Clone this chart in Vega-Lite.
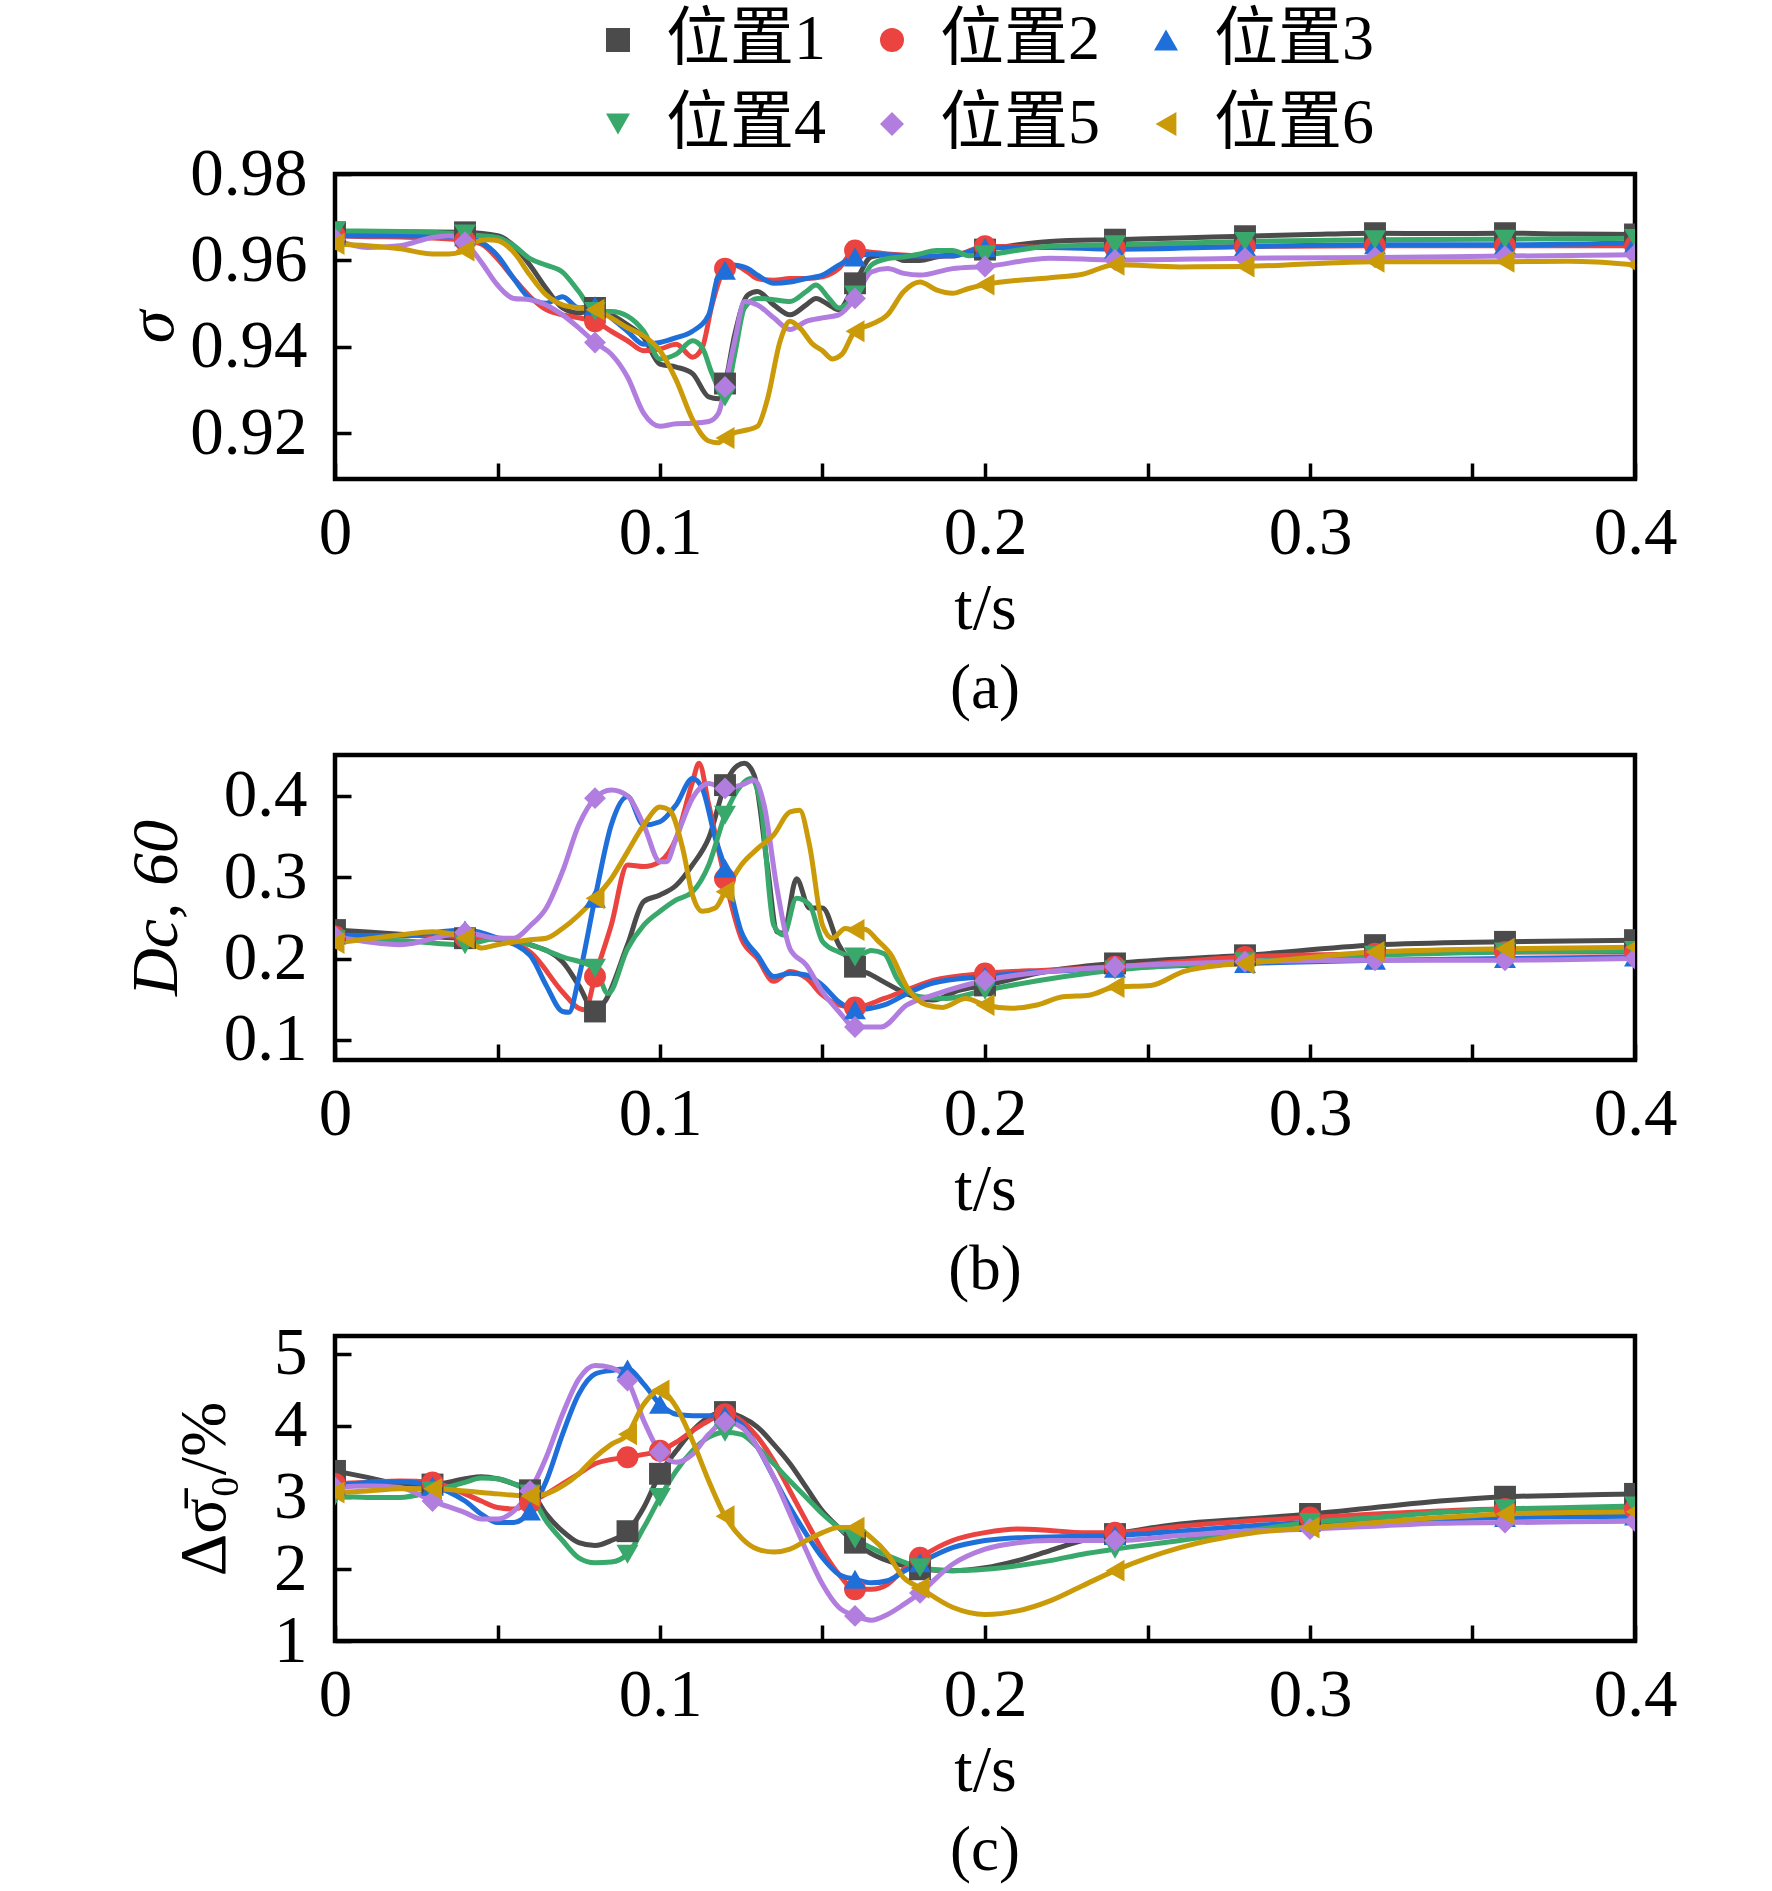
{
"$schema":"https://vega.github.io/schema/vega-lite/v6.json",
"padding":{"left":117,"top":8,"right":10,"bottom":10},
"background":"white",
"bounds":"flush",
"spacing":276,
"config":{
"view":{"stroke":"black","strokeWidth":4.5},
"axis":{"domain":false,"grid":false,"labelFont":"Liberation Serif","labelFontSize":67,"labelColor":"black","tickColor":"black","tickWidth":3.5,"titleFont":"Liberation Serif","titleFontSize":66,"titleFontWeight":"normal","titleColor":"black","labelFlush":false,"labelOverlap":false},
"point":{"opacity":1}
},
"datasets":{
"a":[
{"s":"位置1","t":0,"v":0.9665},{"s":"位置1","t":0.01,"v":0.9666},{"s":"位置1","t":0.02,"v":0.9666},{"s":"位置1","t":0.03,"v":0.9666},{"s":"位置1","t":0.04,"v":0.9665},{"s":"位置1","t":0.05,"v":0.9657},{"s":"位置1","t":0.055,"v":0.9634},{"s":"位置1","t":0.06,"v":0.9589},{"s":"位置1","t":0.065,"v":0.9535},{"s":"位置1","t":0.07,"v":0.949},{"s":"位置1","t":0.075,"v":0.9478},{"s":"位置1","t":0.08,"v":0.949},{"s":"位置1","t":0.085,"v":0.9474},{"s":"位置1","t":0.09,"v":0.9451},{"s":"位置1","t":0.095,"v":0.9421},{"s":"位置1","t":0.1,"v":0.936},{"s":"位置1","t":0.105,"v":0.9353},{"s":"位置1","t":0.11,"v":0.9338},{"s":"位置1","t":0.115,"v":0.9284},{"s":"位置1","t":0.118,"v":0.928},{"s":"位置1","t":0.12,"v":0.9315},{"s":"位置1","t":0.123,"v":0.9429},{"s":"位置1","t":0.127,"v":0.952},{"s":"位置1","t":0.13,"v":0.9528},{"s":"位置1","t":0.135,"v":0.9497},{"s":"位置1","t":0.14,"v":0.9474},{"s":"位置1","t":0.145,"v":0.9497},{"s":"位置1","t":0.148,"v":0.9512},{"s":"位置1","t":0.152,"v":0.9497},{"s":"位置1","t":0.155,"v":0.9486},{"s":"位置1","t":0.16,"v":0.9547},{"s":"位置1","t":0.165,"v":0.9608},{"s":"位置1","t":0.17,"v":0.9613},{"s":"位置1","t":0.175,"v":0.96},{"s":"位置1","t":0.18,"v":0.96},{"s":"位置1","t":0.185,"v":0.9608},{"s":"位置1","t":0.19,"v":0.9613},{"s":"位置1","t":0.2,"v":0.9625},{"s":"位置1","t":0.22,"v":0.9644},{"s":"位置1","t":0.24,"v":0.9648},{"s":"位置1","t":0.26,"v":0.9652},{"s":"位置1","t":0.28,"v":0.9656},{"s":"位置1","t":0.3,"v":0.966},{"s":"位置1","t":0.32,"v":0.9663},{"s":"位置1","t":0.34,"v":0.9662},{"s":"位置1","t":0.36,"v":0.9663},{"s":"位置1","t":0.38,"v":0.9661},{"s":"位置1","t":0.4,"v":0.966},
{"s":"位置2","t":0,"v":0.9657},{"s":"位置2","t":0.01,"v":0.9655},{"s":"位置2","t":0.02,"v":0.9654},{"s":"位置2","t":0.03,"v":0.9652},{"s":"位置2","t":0.04,"v":0.9646},{"s":"位置2","t":0.045,"v":0.9638},{"s":"位置2","t":0.05,"v":0.9604},{"s":"位置2","t":0.055,"v":0.9558},{"s":"位置2","t":0.06,"v":0.9516},{"s":"位置2","t":0.065,"v":0.9486},{"s":"位置2","t":0.07,"v":0.9474},{"s":"位置2","t":0.075,"v":0.9467},{"s":"位置2","t":0.08,"v":0.9459},{"s":"位置2","t":0.085,"v":0.9436},{"s":"位置2","t":0.09,"v":0.9414},{"s":"位置2","t":0.095,"v":0.9391},{"s":"位置2","t":0.1,"v":0.9395},{"s":"位置2","t":0.105,"v":0.9406},{"s":"位置2","t":0.11,"v":0.9376},{"s":"位置2","t":0.113,"v":0.9398},{"s":"位置2","t":0.116,"v":0.9497},{"s":"位置2","t":0.12,"v":0.9581},{"s":"位置2","t":0.123,"v":0.9589},{"s":"位置2","t":0.127,"v":0.9573},{"s":"位置2","t":0.13,"v":0.9558},{"s":"位置2","t":0.135,"v":0.9554},{"s":"位置2","t":0.14,"v":0.9558},{"s":"位置2","t":0.145,"v":0.9558},{"s":"位置2","t":0.15,"v":0.9562},{"s":"位置2","t":0.155,"v":0.9581},{"s":"位置2","t":0.16,"v":0.9623},{"s":"位置2","t":0.165,"v":0.9619},{"s":"位置2","t":0.17,"v":0.9615},{"s":"位置2","t":0.18,"v":0.9611},{"s":"位置2","t":0.19,"v":0.961},{"s":"位置2","t":0.2,"v":0.9633},{"s":"位置2","t":0.22,"v":0.963},{"s":"位置2","t":0.24,"v":0.9629},{"s":"位置2","t":0.28,"v":0.9632},{"s":"位置2","t":0.32,"v":0.9634},{"s":"位置2","t":0.36,"v":0.9634},{"s":"位置2","t":0.4,"v":0.9634},
{"s":"位置3","t":0,"v":0.9657},{"s":"位置3","t":0.02,"v":0.9657},{"s":"位置3","t":0.04,"v":0.9655},{"s":"位置3","t":0.045,"v":0.9642},{"s":"位置3","t":0.05,"v":0.9611},{"s":"位置3","t":0.055,"v":0.9558},{"s":"位置3","t":0.06,"v":0.9512},{"s":"位置3","t":0.065,"v":0.9501},{"s":"位置3","t":0.07,"v":0.9516},{"s":"位置3","t":0.075,"v":0.949},{"s":"位置3","t":0.08,"v":0.9495},{"s":"位置3","t":0.085,"v":0.9467},{"s":"位置3","t":0.09,"v":0.9436},{"s":"位置3","t":0.095,"v":0.9406},{"s":"位置3","t":0.1,"v":0.941},{"s":"位置3","t":0.105,"v":0.9421},{"s":"位置3","t":0.11,"v":0.9436},{"s":"位置3","t":0.115,"v":0.9474},{"s":"位置3","t":0.118,"v":0.9566},{"s":"位置3","t":0.12,"v":0.9577},{"s":"位置3","t":0.123,"v":0.9589},{"s":"位置3","t":0.127,"v":0.9581},{"s":"位置3","t":0.13,"v":0.9566},{"s":"位置3","t":0.135,"v":0.9547},{"s":"位置3","t":0.14,"v":0.955},{"s":"位置3","t":0.145,"v":0.9558},{"s":"位置3","t":0.15,"v":0.9566},{"s":"位置3","t":0.155,"v":0.9589},{"s":"位置3","t":0.16,"v":0.9608},{"s":"位置3","t":0.165,"v":0.9615},{"s":"位置3","t":0.17,"v":0.9613},{"s":"位置3","t":0.18,"v":0.961},{"s":"位置3","t":0.19,"v":0.961},{"s":"位置3","t":0.2,"v":0.963},{"s":"位置3","t":0.22,"v":0.963},{"s":"位置3","t":0.24,"v":0.9626},{"s":"位置3","t":0.28,"v":0.9632},{"s":"位置3","t":0.32,"v":0.9636},{"s":"位置3","t":0.36,"v":0.9636},{"s":"位置3","t":0.4,"v":0.964},
{"s":"位置4","t":0,"v":0.9668},{"s":"位置4","t":0.02,"v":0.9667},{"s":"位置4","t":0.04,"v":0.9661},{"s":"位置4","t":0.045,"v":0.9657},{"s":"位置4","t":0.05,"v":0.9653},{"s":"位置4","t":0.055,"v":0.9634},{"s":"位置4","t":0.06,"v":0.9604},{"s":"位置4","t":0.065,"v":0.9589},{"s":"位置4","t":0.07,"v":0.9573},{"s":"位置4","t":0.075,"v":0.9528},{"s":"位置4","t":0.08,"v":0.9482},{"s":"位置4","t":0.085,"v":0.9482},{"s":"位置4","t":0.09,"v":0.9471},{"s":"位置4","t":0.095,"v":0.9436},{"s":"位置4","t":0.1,"v":0.9372},{"s":"位置4","t":0.105,"v":0.9383},{"s":"位置4","t":0.11,"v":0.9414},{"s":"位置4","t":0.113,"v":0.9398},{"s":"位置4","t":0.116,"v":0.9338},{"s":"位置4","t":0.12,"v":0.9284},{"s":"位置4","t":0.123,"v":0.9383},{"s":"位置4","t":0.126,"v":0.949},{"s":"位置4","t":0.13,"v":0.9512},{"s":"位置4","t":0.135,"v":0.9509},{"s":"位置4","t":0.14,"v":0.9505},{"s":"位置4","t":0.145,"v":0.9528},{"s":"位置4","t":0.148,"v":0.9543},{"s":"位置4","t":0.152,"v":0.9512},{"s":"位置4","t":0.155,"v":0.949},{"s":"位置4","t":0.16,"v":0.952},{"s":"位置4","t":0.165,"v":0.9589},{"s":"位置4","t":0.17,"v":0.9604},{"s":"位置4","t":0.175,"v":0.9608},{"s":"位置4","t":0.18,"v":0.9615},{"s":"位置4","t":0.185,"v":0.9623},{"s":"位置4","t":0.19,"v":0.9623},{"s":"位置4","t":0.195,"v":0.9611},{"s":"位置4","t":0.2,"v":0.9613},{"s":"位置4","t":0.22,"v":0.9633},{"s":"位置4","t":0.24,"v":0.9636},{"s":"位置4","t":0.28,"v":0.9644},{"s":"位置4","t":0.32,"v":0.9648},{"s":"位置4","t":0.36,"v":0.9649},{"s":"位置4","t":0.4,"v":0.9651},
{"s":"位置5","t":0,"v":0.9649},{"s":"位置5","t":0.01,"v":0.963},{"s":"位置5","t":0.02,"v":0.9634},{"s":"位置5","t":0.03,"v":0.9653},{"s":"位置5","t":0.035,"v":0.9657},{"s":"位置5","t":0.04,"v":0.9642},{"s":"位置5","t":0.045,"v":0.9596},{"s":"位置5","t":0.05,"v":0.9543},{"s":"位置5","t":0.055,"v":0.9512},{"s":"位置5","t":0.06,"v":0.9509},{"s":"位置5","t":0.065,"v":0.9497},{"s":"位置5","t":0.07,"v":0.9474},{"s":"位置5","t":0.075,"v":0.9444},{"s":"位置5","t":0.08,"v":0.941},{"s":"位置5","t":0.085,"v":0.9383},{"s":"位置5","t":0.09,"v":0.933},{"s":"位置5","t":0.095,"v":0.9246},{"s":"位置5","t":0.1,"v":0.9216},{"s":"位置5","t":0.105,"v":0.9222},{"s":"位置5","t":0.11,"v":0.9223},{"s":"位置5","t":0.115,"v":0.9227},{"s":"位置5","t":0.118,"v":0.9246},{"s":"位置5","t":0.12,"v":0.9307},{"s":"位置5","t":0.123,"v":0.9414},{"s":"位置5","t":0.126,"v":0.9505},{"s":"位置5","t":0.13,"v":0.9497},{"s":"位置5","t":0.135,"v":0.9467},{"s":"位置5","t":0.14,"v":0.944},{"s":"位置5","t":0.145,"v":0.9459},{"s":"位置5","t":0.15,"v":0.9467},{"s":"位置5","t":0.155,"v":0.9474},{"s":"位置5","t":0.16,"v":0.9512},{"s":"位置5","t":0.165,"v":0.9573},{"s":"位置5","t":0.17,"v":0.9581},{"s":"位置5","t":0.175,"v":0.957},{"s":"位置5","t":0.18,"v":0.9566},{"s":"位置5","t":0.19,"v":0.9581},{"s":"位置5","t":0.2,"v":0.9586},{"s":"位置5","t":0.22,"v":0.9605},{"s":"位置5","t":0.24,"v":0.9601},{"s":"位置5","t":0.28,"v":0.9605},{"s":"位置5","t":0.32,"v":0.9607},{"s":"位置5","t":0.36,"v":0.961},{"s":"位置5","t":0.4,"v":0.9613},
{"s":"位置6","t":0,"v":0.9638},{"s":"位置6","t":0.01,"v":0.9634},{"s":"位置6","t":0.02,"v":0.9627},{"s":"位置6","t":0.03,"v":0.9615},{"s":"位置6","t":0.035,"v":0.9615},{"s":"位置6","t":0.04,"v":0.9623},{"s":"位置6","t":0.043,"v":0.9642},{"s":"位置6","t":0.047,"v":0.9648},{"s":"位置6","t":0.05,"v":0.9646},{"s":"位置6","t":0.055,"v":0.9619},{"s":"位置6","t":0.06,"v":0.9566},{"s":"位置6","t":0.065,"v":0.952},{"s":"位置6","t":0.07,"v":0.9497},{"s":"位置6","t":0.075,"v":0.949},{"s":"位置6","t":0.08,"v":0.9486},{"s":"位置6","t":0.085,"v":0.9467},{"s":"位置6","t":0.09,"v":0.9444},{"s":"位置6","t":0.095,"v":0.9425},{"s":"位置6","t":0.1,"v":0.9391},{"s":"位置6","t":0.105,"v":0.9323},{"s":"位置6","t":0.11,"v":0.9232},{"s":"位置6","t":0.115,"v":0.9182},{"s":"位置6","t":0.118,"v":0.9178},{"s":"位置6","t":0.12,"v":0.9189},{"s":"位置6","t":0.123,"v":0.9201},{"s":"位置6","t":0.127,"v":0.9208},{"s":"位置6","t":0.13,"v":0.9216},{"s":"位置6","t":0.133,"v":0.9277},{"s":"位置6","t":0.137,"v":0.9414},{"s":"位置6","t":0.14,"v":0.9459},{"s":"位置6","t":0.143,"v":0.9444},{"s":"位置6","t":0.147,"v":0.9406},{"s":"位置6","t":0.15,"v":0.9391},{"s":"位置6","t":0.153,"v":0.9372},{"s":"位置6","t":0.156,"v":0.9383},{"s":"位置6","t":0.16,"v":0.9436},{"s":"位置6","t":0.165,"v":0.9452},{"s":"位置6","t":0.17,"v":0.9474},{"s":"位置6","t":0.175,"v":0.9528},{"s":"位置6","t":0.18,"v":0.955},{"s":"位置6","t":0.185,"v":0.9532},{"s":"位置6","t":0.19,"v":0.9524},{"s":"位置6","t":0.195,"v":0.9535},{"s":"位置6","t":0.2,"v":0.9544},{"s":"位置6","t":0.22,"v":0.956},{"s":"位置6","t":0.23,"v":0.9568},{"s":"位置6","t":0.24,"v":0.959},{"s":"位置6","t":0.26,"v":0.9585},{"s":"位置6","t":0.28,"v":0.9586},{"s":"位置6","t":0.3,"v":0.9592},{"s":"位置6","t":0.32,"v":0.9597},{"s":"位置6","t":0.36,"v":0.9597},{"s":"位置6","t":0.38,"v":0.9598},{"s":"位置6","t":0.4,"v":0.959}
],
"b":[
{"s":"位置1","t":0,"v":0.235},{"s":"位置1","t":0.02,"v":0.23},{"s":"位置1","t":0.04,"v":0.225},{"s":"位置1","t":0.05,"v":0.225},{"s":"位置1","t":0.06,"v":0.217},{"s":"位置1","t":0.07,"v":0.196},{"s":"位置1","t":0.075,"v":0.167},{"s":"位置1","t":0.08,"v":0.135},{"s":"位置1","t":0.083,"v":0.147},{"s":"位置1","t":0.09,"v":0.217},{"s":"位置1","t":0.095,"v":0.27},{"s":"位置1","t":0.1,"v":0.278},{"s":"位置1","t":0.105,"v":0.29},{"s":"位置1","t":0.11,"v":0.315},{"s":"位置1","t":0.115,"v":0.348},{"s":"位置1","t":0.12,"v":0.413},{"s":"位置1","t":0.123,"v":0.434},{"s":"位置1","t":0.126,"v":0.44},{"s":"位置1","t":0.129,"v":0.425},{"s":"位置1","t":0.133,"v":0.315},{"s":"位置1","t":0.136,"v":0.233},{"s":"位置1","t":0.138,"v":0.231},{"s":"位置1","t":0.142,"v":0.298},{"s":"位置1","t":0.146,"v":0.262},{"s":"位置1","t":0.15,"v":0.262},{"s":"位置1","t":0.155,"v":0.217},{"s":"位置1","t":0.16,"v":0.19},{"s":"位置1","t":0.165,"v":0.18},{"s":"位置1","t":0.169,"v":0.171},{"s":"位置1","t":0.177,"v":0.155},{"s":"位置1","t":0.184,"v":0.149},{"s":"位置1","t":0.192,"v":0.161},{"s":"位置1","t":0.2,"v":0.167},{"s":"位置1","t":0.22,"v":0.185},{"s":"位置1","t":0.24,"v":0.194},{"s":"位置1","t":0.28,"v":0.204},{"s":"位置1","t":0.32,"v":0.2165},{"s":"位置1","t":0.36,"v":0.2205},{"s":"位置1","t":0.4,"v":0.2226},
{"s":"位置2","t":0,"v":0.227},{"s":"位置2","t":0.02,"v":0.228},{"s":"位置2","t":0.03,"v":0.229},{"s":"位置2","t":0.04,"v":0.226},{"s":"位置2","t":0.05,"v":0.223},{"s":"位置2","t":0.06,"v":0.208},{"s":"位置2","t":0.07,"v":0.159},{"s":"位置2","t":0.075,"v":0.139},{"s":"位置2","t":0.077,"v":0.137},{"s":"位置2","t":0.08,"v":0.178},{"s":"位置2","t":0.085,"v":0.241},{"s":"位置2","t":0.09,"v":0.315},{"s":"位置2","t":0.095,"v":0.313},{"s":"位置2","t":0.1,"v":0.319},{"s":"位置2","t":0.105,"v":0.348},{"s":"位置2","t":0.11,"v":0.417},{"s":"位置2","t":0.112,"v":0.44},{"s":"位置2","t":0.115,"v":0.389},{"s":"位置2","t":0.12,"v":0.298},{"s":"位置2","t":0.125,"v":0.225},{"s":"位置2","t":0.13,"v":0.2},{"s":"位置2","t":0.135,"v":0.172},{"s":"位置2","t":0.14,"v":0.184},{"s":"位置2","t":0.145,"v":0.176},{"s":"位置2","t":0.15,"v":0.155},{"s":"位置2","t":0.155,"v":0.143},{"s":"位置2","t":0.16,"v":0.14},{"s":"位置2","t":0.169,"v":0.151},{"s":"位置2","t":0.177,"v":0.163},{"s":"位置2","t":0.184,"v":0.173},{"s":"位置2","t":0.2,"v":0.1817},{"s":"位置2","t":0.22,"v":0.186},{"s":"位置2","t":0.24,"v":0.19},{"s":"位置2","t":0.28,"v":0.202},{"s":"位置2","t":0.32,"v":0.206},{"s":"位置2","t":0.36,"v":0.208},{"s":"位置2","t":0.4,"v":0.208},
{"s":"位置3","t":0,"v":0.229},{"s":"位置3","t":0.02,"v":0.228},{"s":"位置3","t":0.04,"v":0.235},{"s":"位置3","t":0.05,"v":0.225},{"s":"位置3","t":0.06,"v":0.204},{"s":"位置3","t":0.065,"v":0.167},{"s":"位置3","t":0.07,"v":0.135},{"s":"位置3","t":0.072,"v":0.134},{"s":"位置3","t":0.075,"v":0.176},{"s":"位置3","t":0.08,"v":0.274},{"s":"位置3","t":0.085,"v":0.364},{"s":"位置3","t":0.09,"v":0.399},{"s":"位置3","t":0.095,"v":0.364},{"s":"位置3","t":0.1,"v":0.368},{"s":"位置3","t":0.105,"v":0.389},{"s":"位置3","t":0.11,"v":0.421},{"s":"位置3","t":0.113,"v":0.409},{"s":"位置3","t":0.117,"v":0.348},{"s":"位置3","t":0.12,"v":0.311},{"s":"位置3","t":0.125,"v":0.233},{"s":"位置3","t":0.13,"v":0.204},{"s":"位置3","t":0.135,"v":0.178},{"s":"位置3","t":0.14,"v":0.182},{"s":"位置3","t":0.145,"v":0.18},{"s":"位置3","t":0.15,"v":0.167},{"s":"位置3","t":0.155,"v":0.147},{"s":"位置3","t":0.16,"v":0.137},{"s":"位置3","t":0.169,"v":0.143},{"s":"位置3","t":0.177,"v":0.159},{"s":"位置3","t":0.184,"v":0.17},{"s":"位置3","t":0.2,"v":0.178},{"s":"位置3","t":0.24,"v":0.188},{"s":"位置3","t":0.28,"v":0.194},{"s":"位置3","t":0.32,"v":0.198},{"s":"位置3","t":0.36,"v":0.2},{"s":"位置3","t":0.4,"v":0.202},
{"s":"位置4","t":0,"v":0.223},{"s":"位置4","t":0.02,"v":0.222},{"s":"位置4","t":0.04,"v":0.217},{"s":"位置4","t":0.05,"v":0.225},{"s":"位置4","t":0.06,"v":0.217},{"s":"位置4","t":0.07,"v":0.202},{"s":"位置4","t":0.08,"v":0.188},{"s":"位置4","t":0.084,"v":0.157},{"s":"位置4","t":0.09,"v":0.212},{"s":"位置4","t":0.095,"v":0.241},{"s":"位置4","t":0.1,"v":0.258},{"s":"位置4","t":0.105,"v":0.272},{"s":"位置4","t":0.11,"v":0.282},{"s":"位置4","t":0.115,"v":0.315},{"s":"位置4","t":0.12,"v":0.376},{"s":"位置4","t":0.125,"v":0.413},{"s":"位置4","t":0.128,"v":0.421},{"s":"位置4","t":0.131,"v":0.389},{"s":"位置4","t":0.135,"v":0.241},{"s":"位置4","t":0.138,"v":0.229},{"s":"位置4","t":0.142,"v":0.274},{"s":"位置4","t":0.146,"v":0.266},{"s":"位置4","t":0.15,"v":0.221},{"s":"位置4","t":0.155,"v":0.208},{"s":"位置4","t":0.16,"v":0.202},{"s":"位置4","t":0.165,"v":0.21},{"s":"位置4","t":0.169,"v":0.206},{"s":"位置4","t":0.173,"v":0.175},{"s":"位置4","t":0.18,"v":0.153},{"s":"位置4","t":0.188,"v":0.151},{"s":"位置4","t":0.2,"v":0.161},{"s":"位置4","t":0.24,"v":0.186},{"s":"位置4","t":0.28,"v":0.196},{"s":"位置4","t":0.32,"v":0.204},{"s":"位置4","t":0.36,"v":0.208},{"s":"位置4","t":0.4,"v":0.21},
{"s":"位置5","t":0,"v":0.227},{"s":"位置5","t":0.02,"v":0.217},{"s":"位置5","t":0.04,"v":0.232},{"s":"位置5","t":0.05,"v":0.225},{"s":"位置5","t":0.055,"v":0.225},{"s":"位置5","t":0.06,"v":0.24},{"s":"位置5","t":0.065,"v":0.262},{"s":"位置5","t":0.07,"v":0.307},{"s":"位置5","t":0.075,"v":0.364},{"s":"位置5","t":0.08,"v":0.397},{"s":"位置5","t":0.085,"v":0.407},{"s":"位置5","t":0.09,"v":0.4},{"s":"位置5","t":0.095,"v":0.364},{"s":"位置5","t":0.1,"v":0.319},{"s":"位置5","t":0.102,"v":0.319},{"s":"位置5","t":0.105,"v":0.348},{"s":"位置5","t":0.11,"v":0.397},{"s":"位置5","t":0.115,"v":0.415},{"s":"位置5","t":0.12,"v":0.409},{"s":"位置5","t":0.125,"v":0.413},{"s":"位置5","t":0.129,"v":0.419},{"s":"位置5","t":0.132,"v":0.389},{"s":"位置5","t":0.136,"v":0.286},{"s":"位置5","t":0.14,"v":0.212},{"s":"位置5","t":0.145,"v":0.192},{"s":"位置5","t":0.15,"v":0.159},{"s":"位置5","t":0.155,"v":0.135},{"s":"位置5","t":0.16,"v":0.116},{"s":"位置5","t":0.168,"v":0.116},{"s":"位置5","t":0.176,"v":0.143},{"s":"位置5","t":0.184,"v":0.155},{"s":"位置5","t":0.2,"v":0.173},{"s":"位置5","t":0.24,"v":0.19},{"s":"位置5","t":0.28,"v":0.196},{"s":"位置5","t":0.32,"v":0.198},{"s":"位置5","t":0.36,"v":0.198},{"s":"位置5","t":0.4,"v":0.2},
{"s":"位置6","t":0,"v":0.219},{"s":"位置6","t":0.02,"v":0.229},{"s":"位置6","t":0.03,"v":0.233},{"s":"位置6","t":0.04,"v":0.225},{"s":"位置6","t":0.045,"v":0.213},{"s":"位置6","t":0.05,"v":0.217},{"s":"位置6","t":0.06,"v":0.223},{"s":"位置6","t":0.065,"v":0.225},{"s":"位置6","t":0.07,"v":0.237},{"s":"位置6","t":0.08,"v":0.274},{"s":"位置6","t":0.085,"v":0.298},{"s":"位置6","t":0.09,"v":0.331},{"s":"位置6","t":0.095,"v":0.364},{"s":"位置6","t":0.1,"v":0.386},{"s":"位置6","t":0.103,"v":0.382},{"s":"位置6","t":0.107,"v":0.335},{"s":"位置6","t":0.11,"v":0.278},{"s":"位置6","t":0.113,"v":0.258},{"s":"位置6","t":0.117,"v":0.262},{"s":"位置6","t":0.12,"v":0.282},{"s":"位置6","t":0.125,"v":0.315},{"s":"位置6","t":0.13,"v":0.335},{"s":"位置6","t":0.135,"v":0.352},{"s":"位置6","t":0.14,"v":0.38},{"s":"位置6","t":0.143,"v":0.382},{"s":"位置6","t":0.146,"v":0.339},{"s":"位置6","t":0.15,"v":0.241},{"s":"位置6","t":0.153,"v":0.225},{"s":"位置6","t":0.157,"v":0.237},{"s":"位置6","t":0.16,"v":0.235},{"s":"位置6","t":0.163,"v":0.236},{"s":"位置6","t":0.167,"v":0.222},{"s":"位置6","t":0.171,"v":0.205},{"s":"位置6","t":0.176,"v":0.165},{"s":"位置6","t":0.182,"v":0.143},{"s":"位置6","t":0.187,"v":0.14},{"s":"位置6","t":0.194,"v":0.151},{"s":"位置6","t":0.2,"v":0.143},{"s":"位置6","t":0.208,"v":0.139},{"s":"位置6","t":0.216,"v":0.143},{"s":"位置6","t":0.224,"v":0.153},{"s":"位置6","t":0.232,"v":0.155},{"s":"位置6","t":0.24,"v":0.165},{"s":"位置6","t":0.251,"v":0.167},{"s":"位置6","t":0.261,"v":0.184},{"s":"位置6","t":0.273,"v":0.192},{"s":"位置6","t":0.28,"v":0.194},{"s":"位置6","t":0.32,"v":0.208},{"s":"位置6","t":0.36,"v":0.212},{"s":"位置6","t":0.4,"v":0.214}
],
"c":[
{"s":"位置1","t":0,"v":3.37},{"s":"位置1","t":0.01,"v":3.28},{"s":"位置1","t":0.02,"v":3.19},{"s":"位置1","t":0.03,"v":3.18},{"s":"位置1","t":0.04,"v":3.26},{"s":"位置1","t":0.045,"v":3.29},{"s":"位置1","t":0.05,"v":3.26},{"s":"位置1","t":0.055,"v":3.19},{"s":"位置1","t":0.06,"v":3.1},{"s":"位置1","t":0.065,"v":2.77},{"s":"位置1","t":0.07,"v":2.53},{"s":"位置1","t":0.075,"v":2.37},{"s":"位置1","t":0.08,"v":2.33},{"s":"位置1","t":0.085,"v":2.4},{"s":"位置1","t":0.09,"v":2.53},{"s":"位置1","t":0.095,"v":2.86},{"s":"位置1","t":0.1,"v":3.33},{"s":"位置1","t":0.105,"v":3.65},{"s":"位置1","t":0.11,"v":3.93},{"s":"位置1","t":0.115,"v":4.12},{"s":"位置1","t":0.12,"v":4.19},{"s":"位置1","t":0.125,"v":4.12},{"s":"位置1","t":0.13,"v":3.98},{"s":"位置1","t":0.135,"v":3.74},{"s":"位置1","t":0.14,"v":3.47},{"s":"位置1","t":0.145,"v":3.14},{"s":"位置1","t":0.15,"v":2.81},{"s":"位置1","t":0.155,"v":2.58},{"s":"位置1","t":0.16,"v":2.37},{"s":"位置1","t":0.165,"v":2.22},{"s":"位置1","t":0.17,"v":2.12},{"s":"位置1","t":0.175,"v":2.05},{"s":"位置1","t":0.18,"v":2.0},{"s":"位置1","t":0.19,"v":1.98},{"s":"位置1","t":0.2,"v":2.02},{"s":"位置1","t":0.21,"v":2.12},{"s":"位置1","t":0.22,"v":2.26},{"s":"位置1","t":0.23,"v":2.4},{"s":"位置1","t":0.24,"v":2.49},{"s":"位置1","t":0.26,"v":2.63},{"s":"位置1","t":0.28,"v":2.7},{"s":"位置1","t":0.3,"v":2.77},{"s":"位置1","t":0.32,"v":2.86},{"s":"位置1","t":0.34,"v":2.95},{"s":"位置1","t":0.36,"v":3.01},{"s":"位置1","t":0.38,"v":3.03},{"s":"位置1","t":0.4,"v":3.05},
{"s":"位置2","t":0,"v":3.19},{"s":"位置2","t":0.01,"v":3.21},{"s":"位置2","t":0.02,"v":3.23},{"s":"位置2","t":0.03,"v":3.21},{"s":"位置2","t":0.04,"v":3.05},{"s":"位置2","t":0.045,"v":2.95},{"s":"位置2","t":0.05,"v":2.86},{"s":"位置2","t":0.055,"v":2.84},{"s":"位置2","t":0.06,"v":2.93},{"s":"位置2","t":0.065,"v":3.05},{"s":"位置2","t":0.07,"v":3.19},{"s":"位置2","t":0.075,"v":3.33},{"s":"位置2","t":0.08,"v":3.47},{"s":"位置2","t":0.085,"v":3.53},{"s":"位置2","t":0.09,"v":3.56},{"s":"位置2","t":0.095,"v":3.6},{"s":"位置2","t":0.1,"v":3.65},{"s":"位置2","t":0.105,"v":3.77},{"s":"位置2","t":0.11,"v":3.93},{"s":"位置2","t":0.115,"v":4.07},{"s":"位置2","t":0.12,"v":4.16},{"s":"位置2","t":0.125,"v":4.07},{"s":"位置2","t":0.13,"v":3.84},{"s":"位置2","t":0.135,"v":3.51},{"s":"位置2","t":0.14,"v":3.09},{"s":"位置2","t":0.145,"v":2.67},{"s":"位置2","t":0.15,"v":2.26},{"s":"位置2","t":0.155,"v":1.93},{"s":"位置2","t":0.16,"v":1.72},{"s":"位置2","t":0.165,"v":1.72},{"s":"位置2","t":0.17,"v":1.79},{"s":"位置2","t":0.175,"v":2.0},{"s":"位置2","t":0.18,"v":2.16},{"s":"位置2","t":0.19,"v":2.4},{"s":"位置2","t":0.2,"v":2.51},{"s":"位置2","t":0.21,"v":2.56},{"s":"位置2","t":0.22,"v":2.54},{"s":"位置2","t":0.23,"v":2.51},{"s":"位置2","t":0.24,"v":2.51},{"s":"位置2","t":0.26,"v":2.6},{"s":"位置2","t":0.28,"v":2.67},{"s":"位置2","t":0.3,"v":2.72},{"s":"位置2","t":0.32,"v":2.77},{"s":"位置2","t":0.34,"v":2.81},{"s":"位置2","t":0.36,"v":2.84},{"s":"位置2","t":0.38,"v":2.84},{"s":"位置2","t":0.4,"v":2.84},
{"s":"位置3","t":0,"v":3.16},{"s":"位置3","t":0.01,"v":3.21},{"s":"位置3","t":0.02,"v":3.22},{"s":"位置3","t":0.03,"v":3.16},{"s":"位置3","t":0.04,"v":2.95},{"s":"位置3","t":0.045,"v":2.77},{"s":"位置3","t":0.05,"v":2.65},{"s":"位置3","t":0.055,"v":2.65},{"s":"位置3","t":0.06,"v":2.81},{"s":"位置3","t":0.065,"v":3.23},{"s":"位置3","t":0.07,"v":3.88},{"s":"位置3","t":0.075,"v":4.44},{"s":"位置3","t":0.08,"v":4.72},{"s":"位置3","t":0.085,"v":4.77},{"s":"位置3","t":0.09,"v":4.79},{"s":"位置3","t":0.095,"v":4.58},{"s":"位置3","t":0.1,"v":4.3},{"s":"位置3","t":0.105,"v":4.16},{"s":"位置3","t":0.11,"v":4.14},{"s":"位置3","t":0.115,"v":4.14},{"s":"位置3","t":0.12,"v":4.14},{"s":"位置3","t":0.125,"v":4.02},{"s":"位置3","t":0.13,"v":3.7},{"s":"位置3","t":0.135,"v":3.28},{"s":"位置3","t":0.14,"v":2.86},{"s":"位置3","t":0.145,"v":2.49},{"s":"位置3","t":0.15,"v":2.16},{"s":"位置3","t":0.155,"v":1.93},{"s":"位置3","t":0.16,"v":1.86},{"s":"位置3","t":0.165,"v":1.81},{"s":"位置3","t":0.17,"v":1.84},{"s":"位置3","t":0.175,"v":1.97},{"s":"位置3","t":0.18,"v":2.09},{"s":"位置3","t":0.19,"v":2.3},{"s":"位置3","t":0.2,"v":2.4},{"s":"位置3","t":0.21,"v":2.44},{"s":"位置3","t":0.22,"v":2.45},{"s":"位置3","t":0.24,"v":2.47},{"s":"位置3","t":0.26,"v":2.53},{"s":"位置3","t":0.28,"v":2.6},{"s":"位置3","t":0.3,"v":2.65},{"s":"位置3","t":0.32,"v":2.67},{"s":"位置3","t":0.34,"v":2.7},{"s":"位置3","t":0.36,"v":2.72},{"s":"位置3","t":0.38,"v":2.73},{"s":"位置3","t":0.4,"v":2.74},
{"s":"位置4","t":0,"v":3.02},{"s":"位置4","t":0.01,"v":3.0},{"s":"位置4","t":0.02,"v":3.0},{"s":"位置4","t":0.03,"v":3.09},{"s":"位置4","t":0.04,"v":3.21},{"s":"位置4","t":0.045,"v":3.27},{"s":"位置4","t":0.05,"v":3.26},{"s":"位置4","t":0.055,"v":3.19},{"s":"位置4","t":0.06,"v":3.05},{"s":"位置4","t":0.065,"v":2.67},{"s":"位置4","t":0.07,"v":2.4},{"s":"位置4","t":0.075,"v":2.16},{"s":"位置4","t":0.08,"v":2.09},{"s":"位置4","t":0.085,"v":2.1},{"s":"位置4","t":0.09,"v":2.21},{"s":"位置4","t":0.095,"v":2.58},{"s":"位置4","t":0.1,"v":3.0},{"s":"位置4","t":0.105,"v":3.37},{"s":"位置4","t":0.11,"v":3.65},{"s":"位置4","t":0.115,"v":3.84},{"s":"位置4","t":0.12,"v":3.91},{"s":"位置4","t":0.125,"v":3.88},{"s":"位置4","t":0.13,"v":3.7},{"s":"位置4","t":0.135,"v":3.47},{"s":"位置4","t":0.14,"v":3.23},{"s":"位置4","t":0.145,"v":3.0},{"s":"位置4","t":0.15,"v":2.77},{"s":"位置4","t":0.155,"v":2.58},{"s":"位置4","t":0.16,"v":2.42},{"s":"位置4","t":0.165,"v":2.3},{"s":"位置4","t":0.17,"v":2.19},{"s":"位置4","t":0.175,"v":2.1},{"s":"位置4","t":0.18,"v":2.02},{"s":"位置4","t":0.19,"v":1.98},{"s":"位置4","t":0.2,"v":2.0},{"s":"位置4","t":0.21,"v":2.05},{"s":"位置4","t":0.22,"v":2.12},{"s":"位置4","t":0.23,"v":2.21},{"s":"位置4","t":0.24,"v":2.28},{"s":"位置4","t":0.26,"v":2.4},{"s":"位置4","t":0.28,"v":2.53},{"s":"位置4","t":0.3,"v":2.65},{"s":"位置4","t":0.32,"v":2.72},{"s":"位置4","t":0.34,"v":2.79},{"s":"位置4","t":0.36,"v":2.84},{"s":"位置4","t":0.38,"v":2.86},{"s":"位置4","t":0.4,"v":2.88},
{"s":"位置5","t":0,"v":3.14},{"s":"位置5","t":0.01,"v":3.16},{"s":"位置5","t":0.02,"v":3.14},{"s":"位置5","t":0.03,"v":2.95},{"s":"位置5","t":0.04,"v":2.79},{"s":"位置5","t":0.045,"v":2.7},{"s":"位置5","t":0.05,"v":2.7},{"s":"位置5","t":0.055,"v":2.81},{"s":"位置5","t":0.06,"v":3.09},{"s":"位置5","t":0.065,"v":3.56},{"s":"位置5","t":0.07,"v":4.16},{"s":"位置5","t":0.075,"v":4.65},{"s":"位置5","t":0.08,"v":4.84},{"s":"位置5","t":0.085,"v":4.81},{"s":"位置5","t":0.09,"v":4.63},{"s":"位置5","t":0.095,"v":4.07},{"s":"位置5","t":0.1,"v":3.63},{"s":"位置5","t":0.105,"v":3.49},{"s":"位置5","t":0.11,"v":3.6},{"s":"位置5","t":0.115,"v":3.88},{"s":"位置5","t":0.12,"v":4.05},{"s":"位置5","t":0.125,"v":3.98},{"s":"位置5","t":0.13,"v":3.7},{"s":"位置5","t":0.135,"v":3.28},{"s":"位置5","t":0.14,"v":2.77},{"s":"位置5","t":0.145,"v":2.26},{"s":"位置5","t":0.15,"v":1.79},{"s":"位置5","t":0.155,"v":1.47},{"s":"位置5","t":0.16,"v":1.35},{"s":"位置5","t":0.165,"v":1.29},{"s":"位置5","t":0.17,"v":1.37},{"s":"位置5","t":0.175,"v":1.51},{"s":"位置5","t":0.18,"v":1.67},{"s":"位置5","t":0.19,"v":2.07},{"s":"位置5","t":0.2,"v":2.28},{"s":"位置5","t":0.21,"v":2.37},{"s":"位置5","t":0.22,"v":2.4},{"s":"位置5","t":0.24,"v":2.4},{"s":"位置5","t":0.26,"v":2.47},{"s":"位置5","t":0.28,"v":2.53},{"s":"位置5","t":0.3,"v":2.56},{"s":"位置5","t":0.32,"v":2.6},{"s":"位置5","t":0.34,"v":2.64},{"s":"位置5","t":0.36,"v":2.65},{"s":"位置5","t":0.38,"v":2.66},{"s":"位置5","t":0.4,"v":2.67},
{"s":"位置6","t":0,"v":3.07},{"s":"位置6","t":0.01,"v":3.09},{"s":"位置6","t":0.02,"v":3.12},{"s":"位置6","t":0.03,"v":3.12},{"s":"位置6","t":0.04,"v":3.09},{"s":"位置6","t":0.05,"v":3.05},{"s":"位置6","t":0.06,"v":3.02},{"s":"位置6","t":0.065,"v":3.05},{"s":"位置6","t":0.07,"v":3.16},{"s":"位置6","t":0.075,"v":3.33},{"s":"位置6","t":0.08,"v":3.56},{"s":"位置6","t":0.085,"v":3.74},{"s":"位置6","t":0.09,"v":3.88},{"s":"位置6","t":0.095,"v":4.3},{"s":"位置6","t":0.1,"v":4.49},{"s":"位置6","t":0.105,"v":4.26},{"s":"位置6","t":0.11,"v":3.79},{"s":"位置6","t":0.115,"v":3.23},{"s":"位置6","t":0.12,"v":2.74},{"s":"位置6","t":0.125,"v":2.44},{"s":"位置6","t":0.13,"v":2.28},{"s":"位置6","t":0.135,"v":2.24},{"s":"位置6","t":0.14,"v":2.28},{"s":"位置6","t":0.145,"v":2.4},{"s":"位置6","t":0.15,"v":2.51},{"s":"位置6","t":0.155,"v":2.58},{"s":"位置6","t":0.16,"v":2.58},{"s":"位置6","t":0.165,"v":2.44},{"s":"位置6","t":0.17,"v":2.21},{"s":"位置6","t":0.175,"v":1.88},{"s":"位置6","t":0.18,"v":1.74},{"s":"位置6","t":0.19,"v":1.47},{"s":"位置6","t":0.2,"v":1.37},{"s":"位置6","t":0.21,"v":1.42},{"s":"位置6","t":0.22,"v":1.56},{"s":"位置6","t":0.23,"v":1.77},{"s":"位置6","t":0.24,"v":1.98},{"s":"位置6","t":0.26,"v":2.3},{"s":"位置6","t":0.28,"v":2.49},{"s":"位置6","t":0.3,"v":2.58},{"s":"位置6","t":0.32,"v":2.65},{"s":"位置6","t":0.34,"v":2.72},{"s":"位置6","t":0.36,"v":2.77},{"s":"位置6","t":0.38,"v":2.79},{"s":"位置6","t":0.4,"v":2.8}
]
},
"vconcat":[
{
"width":1300,"height":305,
"data":{"name":"a"},
"title":{"text":"(a)","orient":"bottom","offset":17,"font":"Liberation Serif","fontSize":63,"fontWeight":"normal","color":"black"},
"encoding":{
"x":{"field":"t","type":"quantitative","scale":{"domain":[0,0.4],"nice":false,"zero":false},"axis":{"values":[0,0.05,0.1,0.15,0.2,0.25,0.3,0.35,0.4],"labelExpr":"abs(datum.value*10-round(datum.value*10))<0.01 ? (datum.value==0 ? '0' : format(datum.value,'.1f')) : ''","title":"t/s","tickSize":-16,"labelPadding":37,"titlePadding":10,"encode":{"ticks":{"update":{"y2":{"signal":"abs(datum.value*10-round(datum.value*10))<0.01 ? -16 : -8"}}}}}},
"y":{"field":"v","type":"quantitative","scale":{"domain":[0.9094,0.98],"nice":false,"zero":false},"axis":{"values":[0.92,0.94,0.96,0.98],"format":".2f","title":"σ","titleFontStyle":"italic","tickSize":-16,"labelPadding":44,"titlePadding":3}},
"color":{"field":"s","type":"nominal","scale":{"domain":["位置1","位置2","位置3","位置4","位置5","位置6"],"range":["#4b4b4b","#ea4340","#1f6fda","#39a86b","#b17ee0","#cb9a08"]},
"legend":{"orient":"none","legendX":231,"legendY":-166,"columns":3,"direction":"horizontal","title":null,"symbolSize":576,"symbolOffset":20,"labelOffset":16,"columnPadding":14,"rowPadding":20,"labelFont":"Liberation Serif, Noto Sans CJK SC","labelFontSize":64,"labelColor":"black","labelLimit":0,"symbolStrokeWidth":0,"symbolOpacity":1}}
},
"layer":[
{"mark":{"type":"line","interpolate":"monotone","strokeWidth":5,"clip":true}},
{"transform":[{"filter":{"field":"t","oneOf":[0,0.04,0.08,0.12,0.16,0.2,0.24,0.28,0.32,0.36,0.4]}}],"mark":{"type":"point","filled":true,"size":480,"opacity":1,"clip":true},
"encoding":{"shape":{"field":"s","type":"nominal","scale":{"domain":["位置1","位置2","位置3","位置4","位置5","位置6"],"range":["square","circle","triangle-up","triangle-down","diamond","triangle-left"]},"legend":null}}}
]
},
{
"width":1300,"height":305,
"data":{"name":"b"},
"title":{"text":"(b)","orient":"bottom","offset":17,"font":"Liberation Serif","fontSize":63,"fontWeight":"normal","color":"black"},
"encoding":{
"x":{"field":"t","type":"quantitative","scale":{"domain":[0,0.4],"nice":false,"zero":false},"axis":{"values":[0,0.05,0.1,0.15,0.2,0.25,0.3,0.35,0.4],"labelExpr":"abs(datum.value*10-round(datum.value*10))<0.01 ? (datum.value==0 ? '0' : format(datum.value,'.1f')) : ''","title":"t/s","tickSize":-16,"labelPadding":37,"titlePadding":10,"encode":{"ticks":{"update":{"y2":{"signal":"abs(datum.value*10-round(datum.value*10))<0.01 ? -16 : -8"}}}}}},
"y":{"field":"v","type":"quantitative","scale":{"domain":[0.0754,0.45],"nice":false,"zero":false},"axis":{"values":[0.1,0.2,0.3,0.4],"format":".1f","title":"Dc, 60","titleFontStyle":"italic","tickSize":-16,"labelPadding":44,"titlePadding":33}},
"color":{"field":"s","type":"nominal","scale":{"domain":["位置1","位置2","位置3","位置4","位置5","位置6"],"range":["#4b4b4b","#ea4340","#1f6fda","#39a86b","#b17ee0","#cb9a08"]}}
},
"layer":[
{"mark":{"type":"line","interpolate":"monotone","strokeWidth":5,"clip":true}},
{"transform":[{"filter":{"field":"t","oneOf":[0,0.04,0.08,0.12,0.16,0.2,0.24,0.28,0.32,0.36,0.4]}}],"mark":{"type":"point","filled":true,"size":480,"opacity":1,"clip":true},
"encoding":{"shape":{"field":"s","type":"nominal","scale":{"domain":["位置1","位置2","位置3","位置4","位置5","位置6"],"range":["square","circle","triangle-up","triangle-down","diamond","triangle-left"]},"legend":null}}}
]
},
{
"width":1300,"height":305,
"data":{"name":"c"},
"title":{"text":"(c)","orient":"bottom","offset":17,"font":"Liberation Serif","fontSize":63,"fontWeight":"normal","color":"black"},
"encoding":{
"x":{"field":"t","type":"quantitative","scale":{"domain":[0,0.4],"nice":false,"zero":false},"axis":{"values":[0,0.05,0.1,0.15,0.2,0.25,0.3,0.35,0.4],"labelExpr":"abs(datum.value*10-round(datum.value*10))<0.01 ? (datum.value==0 ? '0' : format(datum.value,'.1f')) : ''","title":"t/s","tickSize":-16,"labelPadding":37,"titlePadding":10,"encode":{"ticks":{"update":{"y2":{"signal":"abs(datum.value*10-round(datum.value*10))<0.01 ? -16 : -8"}}}}}},
"y":{"field":"v","type":"quantitative","scale":{"domain":[1,5.25],"nice":false,"zero":false},"axis":{"values":[1,2,3,4,5],"format":"d","title":"Δσ̄₀/%","tickSize":-16,"labelPadding":44,"titlePadding":35}},
"color":{"field":"s","type":"nominal","scale":{"domain":["位置1","位置2","位置3","位置4","位置5","位置6"],"range":["#4b4b4b","#ea4340","#1f6fda","#39a86b","#b17ee0","#cb9a08"]}}
},
"layer":[
{"mark":{"type":"line","interpolate":"monotone","strokeWidth":5,"clip":true}},
{"transform":[{"filter":{"field":"t","oneOf":[0,0.03,0.06,0.09,0.1,0.12,0.16,0.18,0.24,0.3,0.36,0.4]}}],"mark":{"type":"point","filled":true,"size":480,"opacity":1,"clip":true},
"encoding":{"shape":{"field":"s","type":"nominal","scale":{"domain":["位置1","位置2","位置3","位置4","位置5","位置6"],"range":["square","circle","triangle-up","triangle-down","diamond","triangle-left"]},"legend":null}}}
]
}
]
}
